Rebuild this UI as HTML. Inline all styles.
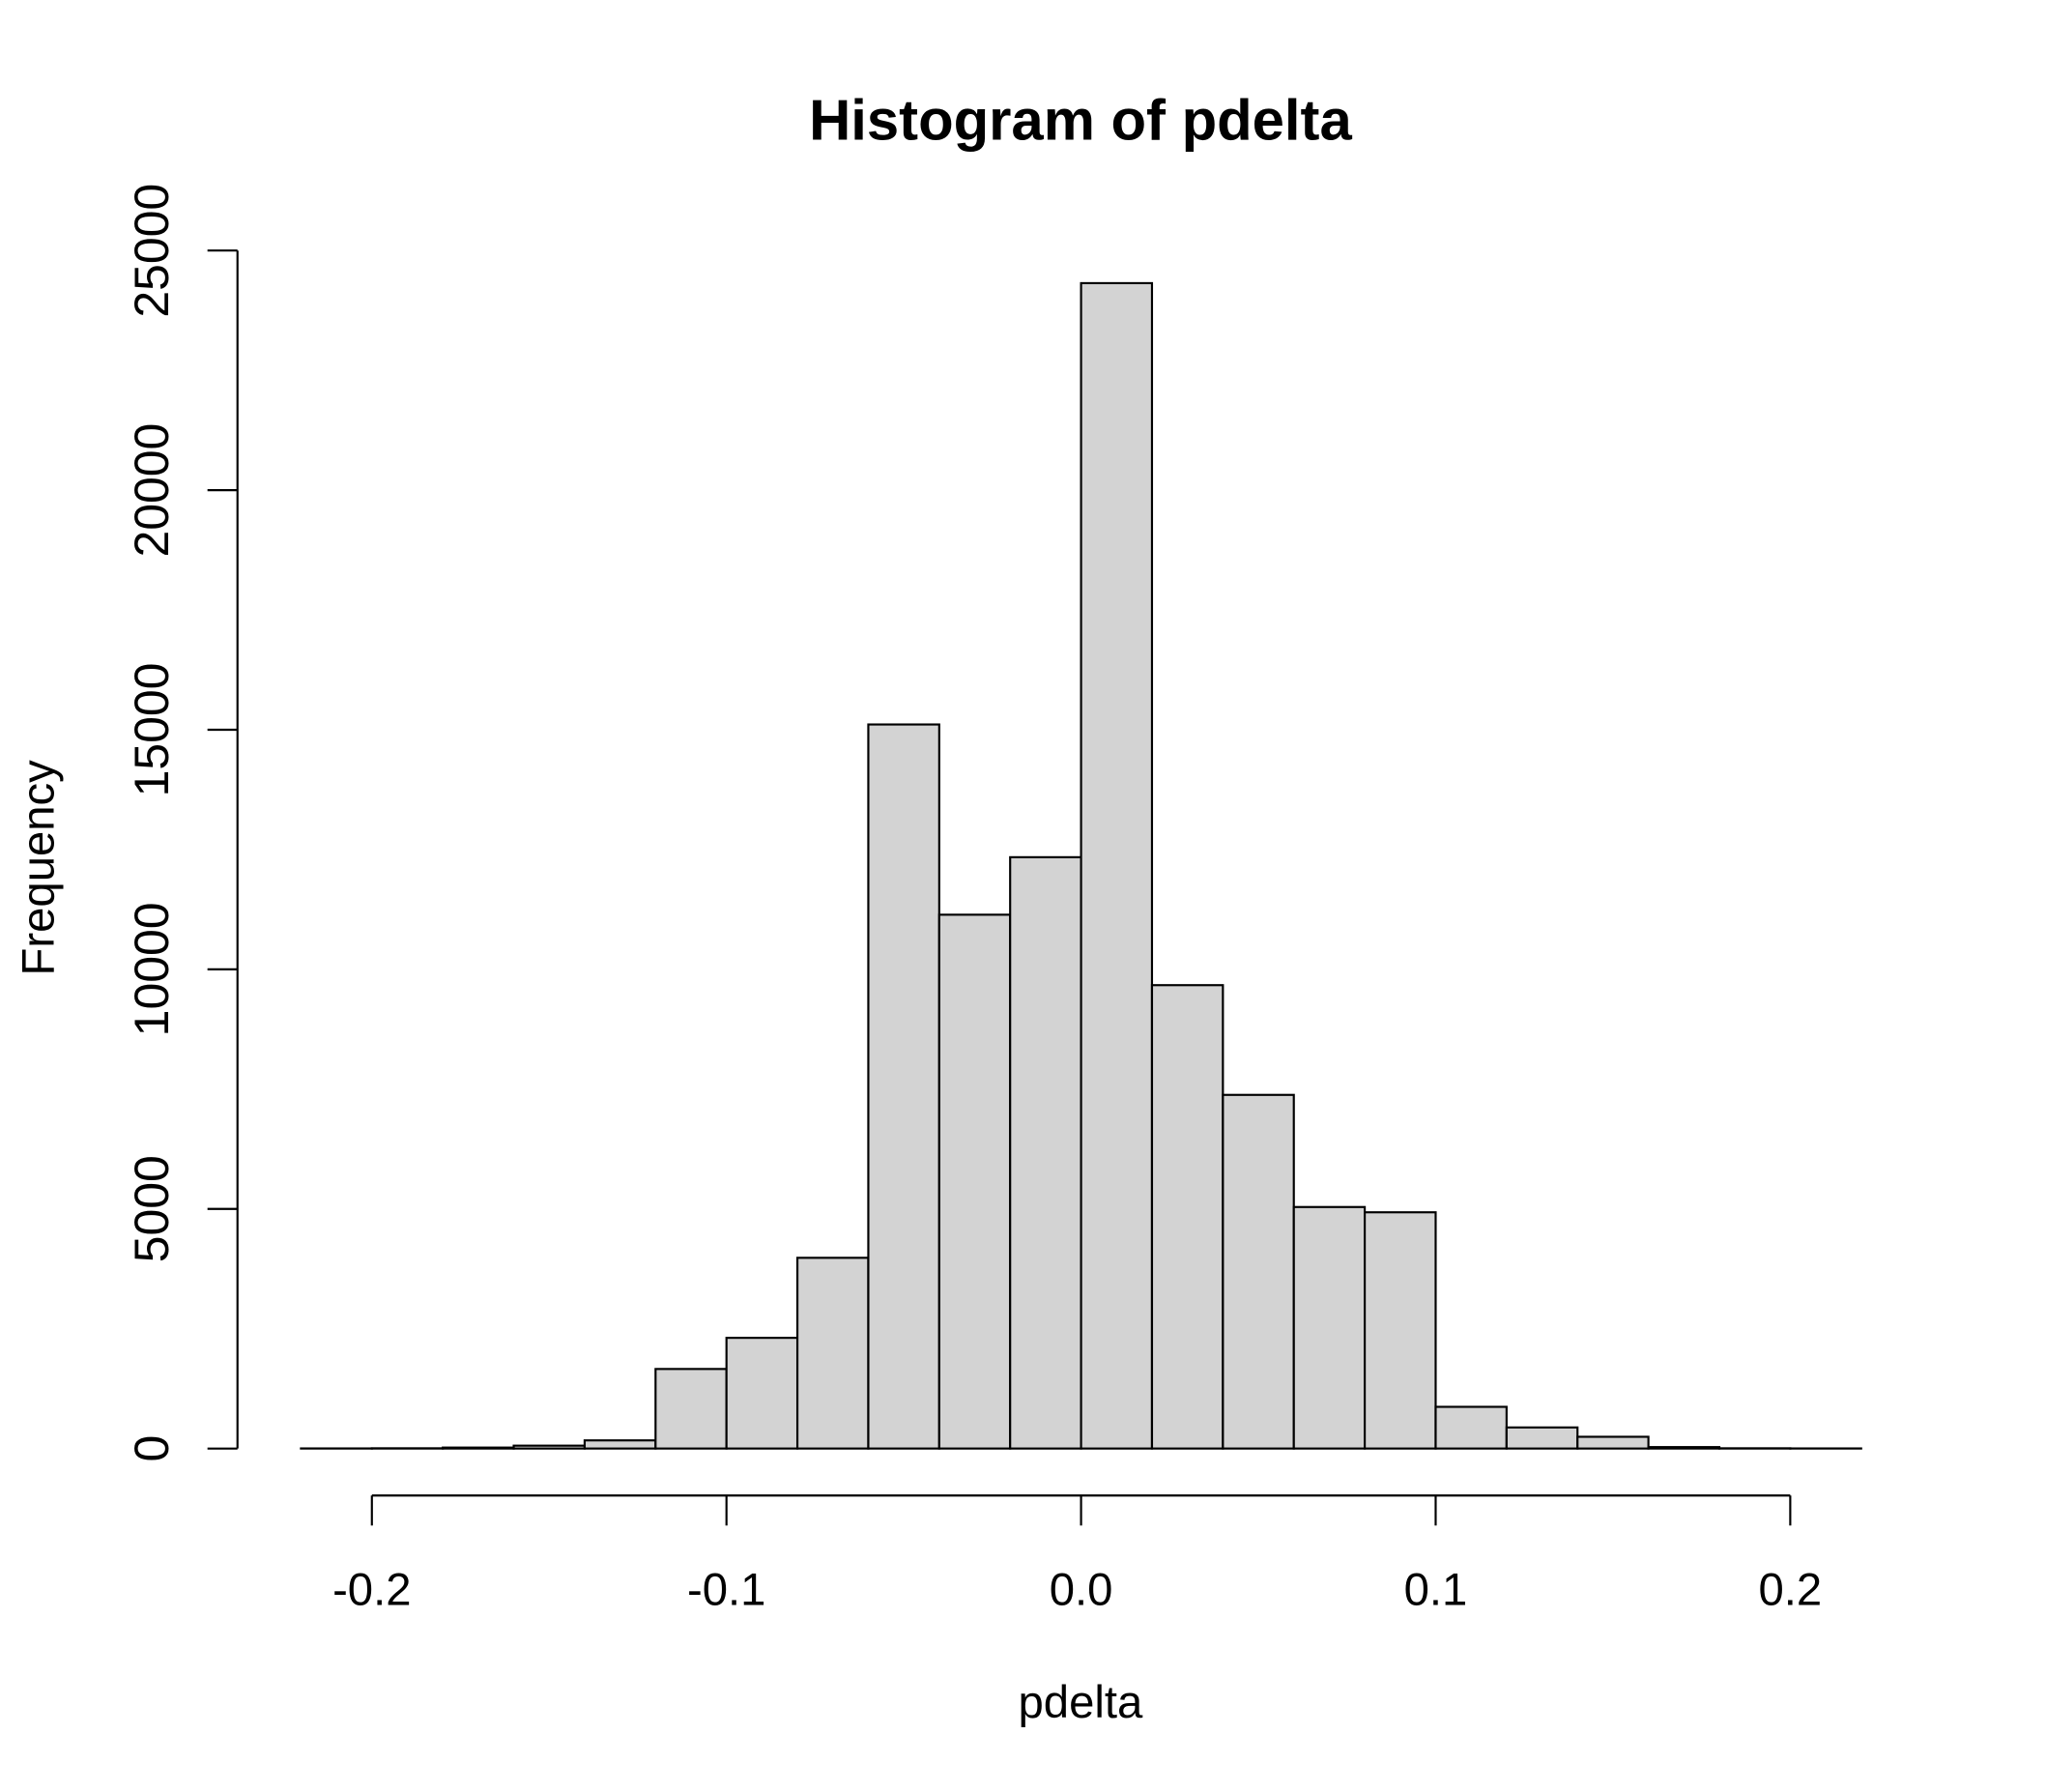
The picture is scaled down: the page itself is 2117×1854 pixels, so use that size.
<!DOCTYPE html>
<html><head><meta charset="utf-8"><style>
html,body{margin:0;padding:0;background:#fff;}
svg{display:block;}
text{font-family:"Liberation Sans",Arial,sans-serif;fill:#000;}
</style></head><body>
<svg id="chart" width="2117" height="1854" viewBox="0 0 1568 1373.2" xmlns="http://www.w3.org/2000/svg">
<rect width="1568" height="1373.2" fill="#fff"/>
<text x="828" y="107" font-size="44" font-weight="bold" text-anchor="middle" textLength="416" lengthAdjust="spacingAndGlyphs">Histogram of pdelta</text>
<text x="828" y="1316" font-size="35" text-anchor="middle">pdelta</text>
<text transform="translate(41,665) rotate(-90)" font-size="35" text-anchor="middle">Frequency</text>
<g id="bars"></g>
<g id="axes"></g>
</svg>
<script>
const binStarts = [-0.22,-0.20,-0.18,-0.16,-0.14,-0.12,-0.10,-0.08,-0.06,-0.04,-0.02,0.00,0.02,0.04,0.06,0.08,0.10,0.12,0.14,0.16,0.18,0.20];
const counts = [2,5,20,60,170,1660,2310,3980,15110,11140,12340,24320,9670,7380,5040,4930,870,440,245,30,5,2];
const binWidth = 0.02;
const xTicks = [-0.2,-0.1,0.0,0.1,0.2];
const xTickLabels = ["-0.2","-0.1","0.0","0.1","0.2"];
const yTicks = [0,5000,10000,15000,20000,25000];
const yTickLabels = ["0","5000","10000","15000","20000","25000"];

const NS = "http://www.w3.org/2000/svg";
const xs = v => 828.5 + v * 2717.5;
const ys = v => 1110 - v * (918 / 25000);
function mk(tag, attrs, parent) {
  const e = document.createElementNS(NS, tag);
  for (const k in attrs) e.setAttribute(k, attrs[k]);
  parent.appendChild(e);
  return e;
}
const bars = document.getElementById('bars');
binStarts.forEach((b, i) => {
  const x0 = xs(b), x1 = xs(b + binWidth), y = ys(counts[i]);
  const r = mk('rect', {x: x0, y: y, width: x1 - x0, height: ys(0) - y, fill: '#d3d3d3', stroke: '#000', 'stroke-width': 1.6}, bars);
  
  
});
const axes = document.getElementById('axes');
const xl = mk('line', {x1: xs(xTicks[0]), x2: xs(xTicks[xTicks.length-1]), y1: 1146, y2: 1146, stroke: '#000', 'stroke-width': 1.6}, axes);


xTicks.forEach((t, i) => {
  const tl = mk('line', {x1: xs(t), x2: xs(t), y1: 1146, y2: 1169, stroke: '#000', 'stroke-width': 1.6}, axes);
  
  
  const tx = mk('text', {x: xs(t), y: 1230, 'font-size': 35, 'text-anchor': 'middle'}, axes);
  tx.textContent = xTickLabels[i];
  
  
});
const yl = mk('line', {x1: 182, x2: 182, y1: ys(yTicks[0]), y2: ys(yTicks[yTicks.length-1]), stroke: '#000', 'stroke-width': 1.6}, axes);


yTicks.forEach((t, i) => {
  const tl = mk('line', {x1: 159, x2: 182, y1: ys(t), y2: ys(t), stroke: '#000', 'stroke-width': 1.6}, axes);
  
  
  const tx = mk('text', {transform: 'translate(129,' + ys(t) + ') rotate(-90)', 'font-size': 37, 'text-anchor': 'middle'}, axes);
  tx.textContent = yTickLabels[i];
  
  
});
</script>
</body></html>
